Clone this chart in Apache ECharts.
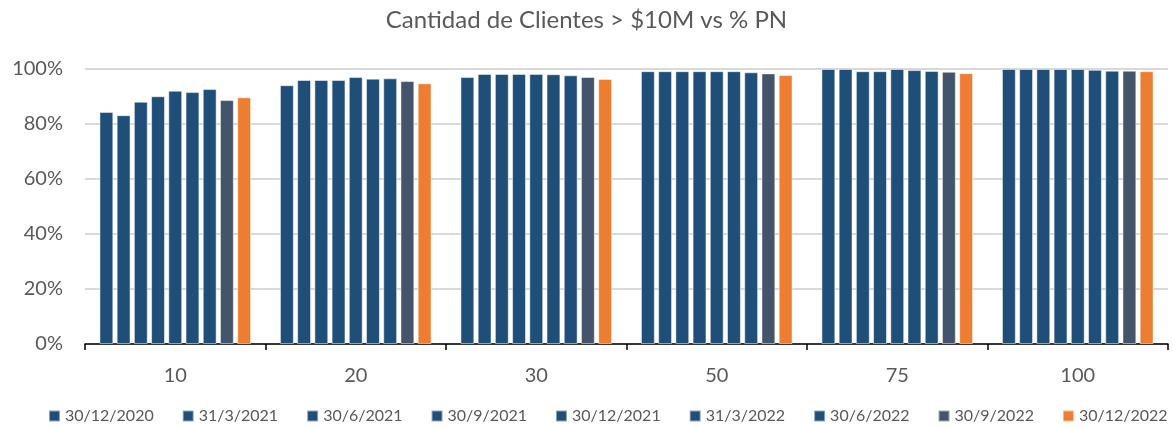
<html>
<head>
<meta charset="utf-8">
<script src="https://cdn.jsdelivr.net/npm/echarts@6/dist/echarts.min.js"></script>
<style>
  html, body { margin: 0; padding: 0; background: #fff; }
  #main { width: 1173px; height: 428px; }
</style>
</head>
<body>
<div id="main"></div>
<script>
var categories = ['10', '20', '30', '50', '75', '100'];
var fechas = ['30/12/2020', '31/3/2021', '30/6/2021', '30/9/2021', '30/12/2021',
              '31/3/2022', '30/6/2022', '30/9/2022', '30/12/2022'];

// % PN por fecha, un valor por categoria
var s20201230 = [84.4, 94.1, 97.1, 99.2, 100, 100];
var s20210331 = [83.2, 96.0, 98.2, 99.2, 100, 100];
var s20210630 = [88.1, 96.0, 98.2, 99.2, 99.2, 100];
var s20210930 = [90.1, 96.0, 98.2, 99.2, 99.2, 100];
var s20211230 = [92.1, 97.1, 98.2, 99.2, 100, 100];
var s20220331 = [91.6, 96.5, 98.1, 99.2, 99.6, 99.7];
var s20220630 = [92.7, 96.6, 97.7, 98.8, 99.3, 99.4];
var s20220930 = [88.7, 95.6, 97.1, 98.4, 99.0, 99.4];
var s20221230 = [89.7, 94.8, 96.4, 97.8, 98.5, 99.2];

var valores = [s20201230, s20210331, s20210630, s20210930, s20211230,
               s20220331, s20220630, s20220930, s20221230];
var colores = ['#1F4E79', '#1F4E79', '#1F4E79', '#1F4E79', '#1F4E79',
               '#1F4E79', '#1F4E79', '#44546A', '#ED7D31'];

var fuente = 'Lato';
var myChart = echarts.init(document.getElementById('main'));

var series = fechas.map(function (f, i) {
    return {
        name: f,
        type: 'bar',
        data: valores[i],
        barGap: '24%',
        barCategoryGap: '16%',
        itemStyle: {
            color: colores[i],
            borderColor: 'rgba(255,255,255,0.5)',
            borderWidth: 1
        }
    };
});

var option = {
    animation: false,
    textStyle: { fontFamily: fuente },
    title: {
        text: 'Cantidad de Clientes > $10M vs % PN',
        left: 'center',
        top: 3,
        textStyle: { fontFamily: fuente, fontSize: 24, fontWeight: 'normal', color: '#595959' }
    },
    legend: {
        data: fechas,
        bottom: 4,
        left: 48,
        width: 1125,
        padding: 0,
        icon: 'rect',
        itemWidth: 11,
        itemHeight: 11,
        itemGap: 28,
        textStyle: { fontFamily: fuente, fontSize: 16, color: '#595959' }
    },
    grid: { left: 85, right: 5, top: 69, bottom: 84, containLabel: false },
    xAxis: {
        type: 'category',
        data: categories,
        axisLine: { lineStyle: { color: '#000', width: 1.5 } },
        axisTick: { show: true, length: 6, lineStyle: { color: '#000', width: 1.5 } },
        axisLabel: { fontFamily: fuente, fontSize: 20, color: '#595959', margin: 22 }
    },
    yAxis: {
        type: 'value',
        min: 0,
        max: 100,
        interval: 20,
        axisLine: { show: false },
        axisTick: { show: false },
        axisLabel: { formatter: '{value}%', fontFamily: fuente, fontSize: 20, color: '#595959', margin: 22 },
        splitLine: { lineStyle: { color: '#d9d9d9', width: 2 } }
    },
    series: series
};

myChart.setOption(option);
</script>
</body>
</html>
